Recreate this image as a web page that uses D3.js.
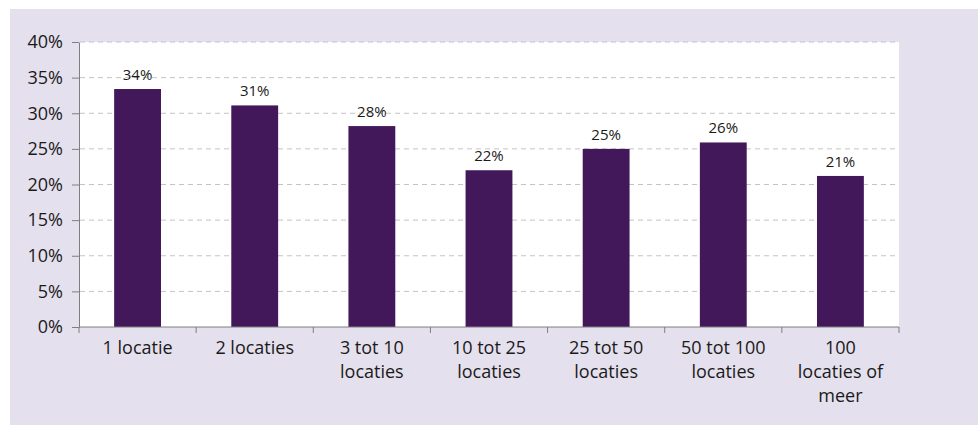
<!DOCTYPE html>
<html>
<head>
<meta charset="utf-8">
<script src="https://cdn.jsdelivr.net/npm/d3@7"></script>
<style>
  body { margin: 0; background: #fff; }
  text { font-family: "Open Sans", "DejaVu Sans", sans-serif; fill: #1a1a1a; }
</style>
</head>
<body>
<div id="chart"></div>
<script>
const width = 978
const height = 425

// Categories (lines of each x label) and shares
const categories = [
  ["1 locatie"],
  ["2 locaties"],
  ["3 tot 10", "locaties"],
  ["10 tot 25", "locaties"],
  ["25 tot 50", "locaties"],
  ["50 tot 100", "locaties"],
  ["100", "locaties of", "meer"]
]
const shares = [33.4, 31.1, 28.2, 22.0, 25.0, 25.9, 21.2]
const shareLabels = ["34%", "31%", "28%", "22%", "25%", "26%", "21%"]
const yTicks = [0, 5, 10, 15, 20, 25, 30, 35, 40]

const margin = { top: 42, right: 79, bottom: 98, left: 79 }

const svg = d3.select("#chart")
  .append("svg")
    .attr("width", width)
    .attr("height", height)

// light purple panel behind the chart
svg.append("rect")
  .attr("x", 10)
  .attr("y", 9)
  .attr("width", width - 10)
  .attr("height", height - 9)
  .attr("fill", "#e5e0ed")

// white plot area
svg.append("rect")
  .attr("x", margin.left)
  .attr("y", margin.top)
  .attr("width", width - margin.left - margin.right)
  .attr("height", height - margin.top - margin.bottom)
  .attr("fill", "#fff")

const keys = categories.map(c => c.join(" "))

const xScale = d3.scaleBand()
  .domain(keys)
  .range([margin.left, width - margin.right])
  .paddingInner(0.6)
  .paddingOuter(0.3)

const yScale = d3.scaleLinear()
  .domain([0, 40])
  .range([height - margin.bottom, margin.top])

// dashed gridlines
svg.append("g")
  .selectAll("line")
  .data(yTicks.filter(d => d > 0))
  .join("line")
    .attr("x1", margin.left + 1)
    .attr("x2", width - margin.right)
    .attr("y1", d => yScale(d))
    .attr("y2", d => yScale(d))
    .attr("stroke", "#c4c4c4")
    .attr("stroke-dasharray", "5,4")

// bars
svg.append("g")
  .selectAll("rect")
  .data(shares)
  .join("rect")
    .attr("x", (d, i) => xScale(keys[i]))
    .attr("y", d => yScale(d))
    .attr("width", xScale.bandwidth())
    .attr("height", d => yScale(0) - yScale(d))
    .attr("fill", "#43185a")

// value labels
svg.append("g")
  .selectAll("text")
  .data(shares)
  .join("text")
    .attr("x", (d, i) => xScale(keys[i]) + xScale.bandwidth() / 2)
    .attr("y", d => yScale(d) - 9)
    .attr("text-anchor", "middle")
    .attr("font-size", 15)
    .text((d, i) => shareLabels[i])

// y-axis
const yAxis = svg.append("g")
  .attr("transform", `translate(${margin.left}, 0)`)
  .call(d3.axisLeft(yScale).tickValues(yTicks).tickFormat(d => d + "%").tickSize(7).tickSizeOuter(0))
yAxis.selectAll("path, line").attr("stroke", "#7f7f7f")
yAxis.selectAll("text").attr("font-size", 18).attr("fill", "#1a1a1a").attr("x", -16)

// x-axis: tick marks sit between the categories
const bounds = d3.range(categories.length + 1).map(i => margin.left + i * (width - margin.left - margin.right) / categories.length)
const xAxis = svg.append("g")
xAxis.append("line")
  .attr("x1", margin.left)
  .attr("x2", width - margin.right)
  .attr("y1", yScale(0))
  .attr("y2", yScale(0))
  .attr("stroke", "#7f7f7f")
xAxis.selectAll("line.tick")
  .data(bounds)
  .join("line")
    .attr("class", "tick")
    .attr("x1", d => d)
    .attr("x2", d => d)
    .attr("y1", yScale(0))
    .attr("y2", yScale(0) + 6)
    .attr("stroke", "#7f7f7f")

// wrapped category labels
const labels = xAxis.selectAll("text")
  .data(categories)
  .join("text")
    .attr("text-anchor", "middle")
    .attr("font-size", 18)
    .attr("x", (d, i) => xScale(keys[i]) + xScale.bandwidth() / 2)
    .attr("y", yScale(0) + 27)
labels.selectAll("tspan")
  .data(d => d)
  .join("tspan")
    .attr("x", function () { return this.parentNode.getAttribute("x") })
    .attr("dy", (d, i) => i === 0 ? 0 : 24)
    .text(d => d)
</script>
</body>
</html>
